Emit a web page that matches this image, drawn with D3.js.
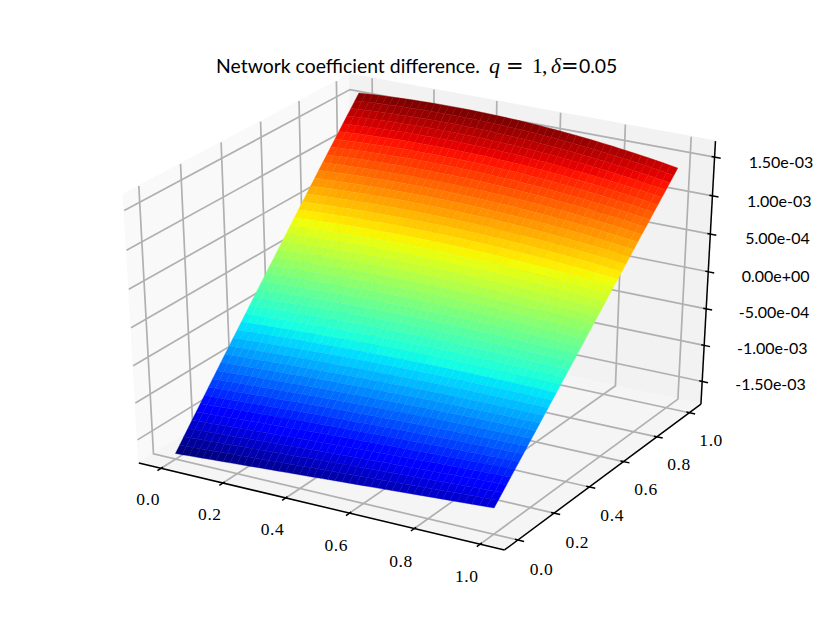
<!DOCTYPE html>
<html><head><meta charset="utf-8">
<script src="https://cdnjs.cloudflare.com/ajax/libs/d3/7.8.5/d3.min.js"></script>
<style>html,body{margin:0;padding:0;background:#fff}svg{display:block}</style>
</head><body><svg id="c" width="830" height="623"></svg>
<script>
// ---- data (z in units of 1e-6) ----
const xTicks=[0,0.2,0.4,0.6,0.8,1];
const yTicks=[0,0.2,0.4,0.6,0.8,1];
const xTickLabels=["0.0","0.2","0.4","0.6","0.8","1.0"];
const yTickLabels=["0.0","0.2","0.4","0.6","0.8","1.0"];
const zTicks=[-1500,-1000,-500,0,500,1000,1500];
const zTickLabels=["-1.50e-03","-1.00e-03","-5.00e-04","0.00e+00","5.00e-04","1.00e-03","1.50e-03"];
const axisLimitsXY=[-0.05,1.05];
const axisLimitsZ=[-1747,1633];
// z along the edge x=0, one value per grid row (y = 0 ... 1)
const zLeftEdge=[-1740,-1663,-1586,-1510,-1433,-1357,-1280,-1204,-1128,-1052,-976,-900,-825,-749,-674,-599,-524,-449,-374,-299,-224,-150,-75,-1,73,147,221,295,369,443,516,589,663,736,809,882,954,1027,1100,1172,1244,1316,1389,1460,1532,1604];
// z along the edge x=1, one value per grid row
const zRightEdge=[-1465,-1401,-1338,-1274,-1210,-1146,-1083,-1019,-955,-892,-828,-764,-700,-637,-573,-509,-446,-382,-318,-254,-191,-127,-63,0,64,128,191,255,319,383,446,510,574,637,701,765,829,892,956,1020,1083,1147,1211,1274,1338,1402];
// how far each row rises above its edge-to-edge chord at mid width
const rowCrown=[0,3,6,9,12,14,17,20,23,26,29,32,35,38,40,43,46,49,52,55,58,61,64,66,69,72,75,78,81,84,87,90,92,95,98,101,104,107,110,113,116,118,121,124,127,130];
// share of the crown at each grid column (x = 0 ... 1)
const columnCrown=[0,.087,.17,.249,.324,.395,.462,.525,.585,.64,.691,.739,.782,.822,.857,.889,.917,.94,.96,.976,.988,.996,1,1,.996,.988,.976,.96,.94,.917,.889,.857,.822,.782,.739,.691,.64,.585,.525,.462,.395,.324,.249,.17,.087,0];
const gridX=columnCrown.map((_,i)=>i/45);
const gridY=rowCrown.map((_,j)=>j/45);

// ---- scales ----
const nX=d3.scaleLinear().domain(axisLimitsXY).range([0,1]);
const nY=d3.scaleLinear().domain(axisLimitsXY).range([0,1]);
const nZ=d3.scaleLinear().domain(axisLimitsZ).range([0,1]);
const pxX=d3.scaleLinear().domain([0,1]).range([424.4,424.4+4052]);
const pxY=d3.scaleLinear().domain([0,1]).range([303.6,303.6-2945]);
const az=-60*Math.PI/180, el=30*Math.PI/180, dist=10;
const n=[Math.cos(az)*Math.cos(el),Math.sin(az)*Math.cos(el),Math.sin(el)];
const u=[-Math.sin(az),Math.cos(az),0];
const v=[n[1]*u[2]-n[2]*u[1],n[2]*u[0]-n[0]*u[2],n[0]*u[1]-n[1]*u[0]];
function proj(a,b,c){
  const q=[a-.5,b-.5,c-.5];
  const dot=(m)=>m[0]*q[0]+m[1]*q[1]+m[2]*q[2];
  const d=dist-dot(n);
  return [pxX(dot(u)/d),pxY(dot(v)/d),d];
}
const lo=-1/48, hi=1+1/48, delta=1/12;
const svg=d3.select("#c");
const line=d3.line();
const path3=(pts)=>line(pts.map(p=>proj(p[0],p[1],p[2]).slice(0,2)));

// ---- panes ----
const panes=[
 {c:"#f9f9f9",p:[[lo,lo,lo],[lo,hi,lo],[lo,hi,hi],[lo,lo,hi]]},
 {c:"#f2f2f2",p:[[lo,hi,lo],[hi,hi,lo],[hi,hi,hi],[lo,hi,hi]]},
 {c:"#f5f5f5",p:[[lo,lo,lo],[hi,lo,lo],[hi,hi,lo],[lo,hi,lo]]}
];
svg.append("g").selectAll("path").data(panes).join("path")
 .attr("d",d=>path3(d.p)+"Z").attr("fill",d=>d.c).attr("stroke",d=>d.c).attr("stroke-width",1.4);

// ---- grid ----
const gridLines=[
 ...xTicks.map(t=>{const a=nX(t);return [[a,lo,lo],[a,hi,lo],[a,hi,hi]];}),
 ...yTicks.map(t=>{const a=nY(t);return [[hi,a,lo],[lo,a,lo],[lo,a,hi]];}),
 ...zTicks.map(t=>{const a=nZ(t);return [[lo,lo,a],[lo,hi,a],[hi,hi,a]];})
];
svg.append("g").selectAll("path").data(gridLines).join("path")
 .attr("d",path3).attr("fill","none").attr("stroke","#b0b0b0").attr("stroke-width",1.7);

// ---- axis lines and ticks ----
const axes=[[[lo,lo,lo],[hi,lo,lo]],[[hi,lo,lo],[hi,hi,lo]],[[hi,hi,lo],[hi,hi,hi]]];
const out=.2*delta, inw=.1*delta;
const tickSegs=[
 ...xTicks.map(t=>{const a=nX(t);return [[a,lo-out,lo],[a,lo+inw,lo]];}),
 ...yTicks.map(t=>{const a=nY(t);return [[hi+out,a,lo],[hi-inw,a,lo]];}),
 ...zTicks.map(t=>{const a=nZ(t);return [[hi+out,hi,a],[hi-inw,hi,a]];})
];
svg.append("g").selectAll("path").data(axes.concat(tickSegs)).join("path")
 .attr("d",path3).attr("fill","none").attr("stroke","#000").attr("stroke-width",1.5);

// ---- surface ----
const zAt=(i,j)=>zLeftEdge[j]+(zRightEdge[j]-zLeftEdge[j])*gridX[i]+rowCrown[j]*columnCrown[i];
const faces=[];
for(let j=0;j<gridY.length-1;j++)for(let i=0;i<gridX.length-1;i++){
  const c=[[i,j],[i+1,j],[i+1,j+1],[i,j+1]];
  const pts=c.map(([a,b])=>proj(nX(gridX[a]),nY(gridY[b]),nZ(zAt(a,b))));
  faces.push({pts,z:d3.mean(c,([a,b])=>zAt(a,b)),d:d3.mean(pts,p=>p[2])});
}
faces.sort((a,b)=>b.d-a.d);
const jetR=d3.scaleLinear().domain([0,.35,.66,.89,1]).range([0,0,1,1,.5]).clamp(true);
const jetG=d3.scaleLinear().domain([0,.125,.375,.64,.91,1]).range([0,0,1,1,0,0]).clamp(true);
const jetB=d3.scaleLinear().domain([0,.11,.34,.65,1]).range([.5,1,1,0,0]).clamp(true);
const colorNorm=d3.scaleLinear().domain(d3.extent(faces,f=>f.z)).range([0,1]);
const jet=(z)=>{const t=Math.min(255,Math.floor(colorNorm(z)*256))/255;
 return d3.rgb(jetR(t)*255,jetG(t)*255,jetB(t)*255).formatRgb();};
svg.append("g").selectAll("path").data(faces).join("path")
 .attr("d",f=>line(f.pts.map(p=>p.slice(0,2)))+"Z").attr("fill",f=>jet(f.z))
 .attr("stroke",f=>jet(f.z)).attr("stroke-width",.35);

// ---- labels ----
const serif="'Liberation Serif',serif", sans="Lato,'Open Sans',sans-serif";
const place=(sel,p)=>sel.attr("x",p[0]).attr("y",p[1]);
xTicks.forEach((t,i)=>{const p=proj(nX(t),lo-.064,lo-.09);
 svg.append("text").call(place,p).attr("text-anchor","middle").attr("dominant-baseline","central")
  .attr("font-family",serif).attr("font-size",17.5).attr("letter-spacing",.6).attr("fill","#000").text(xTickLabels[i]);});
yTicks.forEach((t,i)=>{const p=proj(hi+.066,nY(t),lo-.092);
 svg.append("text").call(place,p).attr("text-anchor","middle").attr("dominant-baseline","central")
  .attr("font-family",serif).attr("font-size",17.5).attr("letter-spacing",.6).attr("fill","#000").text(yTickLabels[i]);});
zTicks.forEach((t,i)=>{const nz=nZ(t);const p=proj(hi+.1635-.0155*nz,hi+.0658,nz);
 svg.append("text").call(place,p).attr("dy",-1.7+4.1*nz).attr("text-anchor","middle").attr("dominant-baseline","central")
  .attr("font-family",sans).attr("font-size",16).attr("fill","#000").text(zTickLabels[i]);});

const titleY=73;
const titleParts=[
 {t:"Network coefficient difference.",x:216,f:sans,s:19.4,i:"normal"},
 {t:"q",x:489,f:serif,s:22,i:"italic"},
 {t:"=",x:506,f:"'DejaVu Sans'",s:21,i:"normal"},
 {t:"1",x:532,f:serif,s:21.5,i:"normal"},
 {t:",",x:542,f:serif,s:21.5,i:"normal"},
 {t:"δ",x:551,f:serif,s:21.5,i:"italic"},
 {t:"=",x:561,f:"'DejaVu Sans'",s:21,i:"normal"},
 {t:"0.05",x:579,f:sans,s:19.4,i:"normal"}
];
svg.append("g").selectAll("text").data(titleParts).join("text")
 .attr("x",d=>d.x).attr("y",titleY).attr("font-family",d=>d.f).attr("font-size",d=>d.s)
 .attr("font-style",d=>d.i).attr("fill","#000").text(d=>d.t);
</script></body></html>
